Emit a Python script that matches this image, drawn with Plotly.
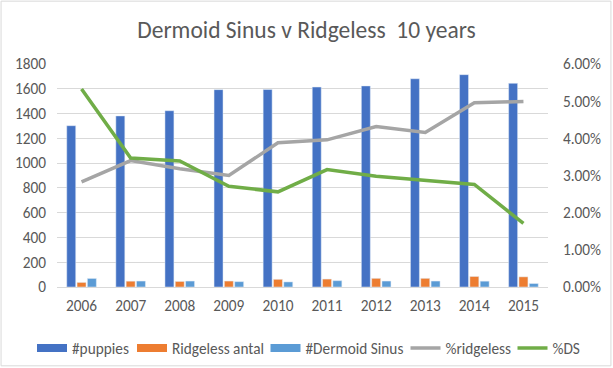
import plotly.graph_objects as go

years = ["2006", "2007", "2008", "2009", "2010", "2011", "2012", "2013", "2014", "2015"]
puppies = [1302, 1381, 1423, 1593, 1594, 1614, 1623, 1681, 1714, 1644]
ridgeless_antal = [37, 47, 45, 48, 62, 64, 70, 70, 85, 82]
dermoid_sinus = [69, 48, 48, 43, 41, 51, 48, 48, 47, 28]
pct_ridgeless = [0.0283, 0.0340, 0.0318, 0.0300, 0.0388, 0.0396, 0.0432, 0.0416, 0.0496, 0.0499]
pct_ds = [0.0533, 0.0347, 0.0339, 0.0271, 0.0256, 0.0316, 0.0298, 0.0286, 0.0276, 0.0171]

FONT = "Calibri, Carlito, Lato, sans-serif"
TXT = "#595959"
C_BLUE, C_ORANGE, C_LBLUE, C_GRAY, C_GREEN = "#4472C4", "#ED7D31", "#5B9BD5", "#A5A5A5", "#70AD47"

W, H = 613, 368
ml, mr, mt, mb = 57, 64.5, 64, 80.5
pw, ph = W - ml - mr, H - mt - mb

fig = go.Figure()
# bars (legend shown through wide swatch entries below)
fig.add_trace(go.Bar(x=years, y=puppies, name="#puppies", marker_color=C_BLUE,
                     legendgroup="a", showlegend=False))
fig.add_trace(go.Bar(x=years, y=ridgeless_antal, name="Ridgeless antal", marker_color=C_ORANGE,
                     legendgroup="b", showlegend=False))
fig.add_trace(go.Bar(x=years, y=dermoid_sinus, name="#Dermoid Sinus", marker_color=C_LBLUE,
                     legendgroup="c", showlegend=False))
fig.add_trace(go.Scatter(x=years, y=pct_ridgeless, name="%ridgeless", mode="lines",
                         line=dict(color=C_GRAY, width=3.5), yaxis="y2", legend="legend4"))
fig.add_trace(go.Scatter(x=years, y=pct_ds, name="%DS", mode="lines",
                         line=dict(color=C_GREEN, width=3.5), yaxis="y2", legend="legend5"))
# legend swatches for the bar series (no data of their own)
for nm, col, grp, lg in [("#puppies", C_BLUE, "a", "legend"),
                         ("Ridgeless antal", C_ORANGE, "b", "legend2"),
                         ("#Dermoid Sinus", C_LBLUE, "c", "legend3")]:
    fig.add_trace(go.Scatter(x=[None], y=[None], name=nm, mode="lines", legendgroup=grp,
                             line=dict(color=col, width=8), legend=lg, hoverinfo="skip"))

# left pixel of each legend swatch in the reference
swatch_px = [38.5, 138.5, 272, 412, 519]
legend_y = 1 - 348 / H
OFF = 6.5
legends = {}
for i, px in enumerate(swatch_px):
    key = "legend" if i == 0 else f"legend{i + 1}"
    legends[key] = dict(orientation="h", xref="container", yref="container",
                        x=(px - OFF) / W, xanchor="left", y=legend_y, yanchor="middle",
                        font=dict(size=15.3, color=TXT, family=FONT), itemwidth=30,
                        bgcolor="rgba(0,0,0,0)")

fig.update_layout(
    width=W, height=H,
    margin=dict(l=ml, r=mr, t=mt, b=mb, autoexpand=False),
    paper_bgcolor="white", plot_bgcolor="white",
    font=dict(family=FONT, color=TXT, size=15.3),
    title=dict(text="Dermoid Sinus v Ridgeless  10 years", x=0.5, xanchor="center",
               y=1 - 30 / H, yanchor="middle", font=dict(size=23.5, color=TXT, family=FONT)),
    barmode="group", bargap=0.37, bargroupgap=0.13,
    xaxis=dict(type="category", showgrid=False, showline=False, ticks="",
               tickfont=dict(size=15.3, color=TXT), ticklabelstandoff=8),
    yaxis=dict(range=[0, 1800], dtick=200, showgrid=True, gridcolor="#D9D9D9", gridwidth=1,
               zeroline=True, zerolinecolor="#D9D9D9", zerolinewidth=1,
               showline=False, ticks="", tickfont=dict(size=15.3, color=TXT), ticklabelstandoff=10),
    yaxis2=dict(range=[0, 0.06], dtick=0.01, tickformat=".2%", overlaying="y", side="right",
                showgrid=False, zeroline=False, showline=False, ticks="",
                tickfont=dict(size=15.3, color=TXT), ticklabelstandoff=14),
    shapes=[dict(type="rect", xref="paper", yref="paper",
                 x0=-(ml - 1) / pw, x1=1 + (mr - 1.5) / pw,
                 y0=-(mb - 1.5) / ph, y1=1 + (mt - 1) / ph,
                 line=dict(color="#D9D9D9", width=1), layer="below")],
    **legends,
)

fig.write_html("out.html", config={"displayModeBar": False},
               post_script="document.body.style.margin='0';")
